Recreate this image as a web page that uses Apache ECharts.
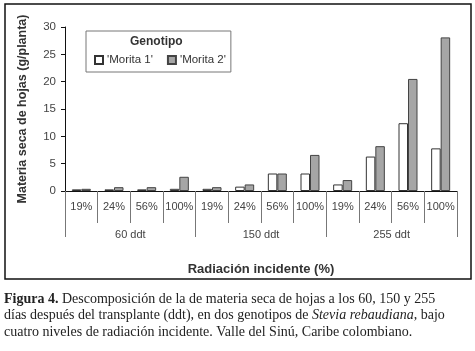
<!DOCTYPE html>
<html>
<head>
<meta charset="utf-8">
<script src="https://cdn.jsdelivr.net/npm/echarts@6/dist/echarts.min.js"></script>
<style>
  html, body { margin: 0; padding: 0; background: #fff; }
  #chart { width: 475px; height: 351px; }
</style>
</head>
<body>
<div id="chart"></div>
<script>
// datos
var radiacion = ['19%', '24%', '56%', '100%', '19%', '24%', '56%', '100%', '19%', '24%', '56%', '100%'];
var etapas = ['60 ddt', '150 ddt', '255 ddt'];
var morita1 = [0.3, 0.3, 0.3, 0.4, 0.4, 0.8, 3.2, 3.2, 1.2, 6.3, 12.4, 7.8];
var morita2 = [0.4, 0.7, 0.7, 2.6, 0.7, 1.2, 3.2, 6.6, 2.0, 8.2, 20.5, 28.1];
var yTicks = [0, 5, 10, 15, 20, 25, 30];

var fuente = 'Liberation Sans, Arial, sans-serif';
var serif = 'Liberation Serif, DejaVu Serif, serif';

var chart = echarts.init(document.getElementById('chart'));

var option = {
  animation: false,
  backgroundColor: '#fff',
  grid: { left: 65, right: 18, top: 27, bottom: 160, containLabel: false },
  legend: {
    left: 86, top: 31,
    padding: [23, 5, 6, 8],
    itemWidth: 8, itemHeight: 8, itemGap: 14,
    icon: 'rect',
    borderColor: '#777', borderWidth: 1,
    textStyle: { fontFamily: fuente, fontSize: 11.5, color: '#333', padding: [0, 0, 0, -1] },
    data: ["'Morita 1'", "'Morita 2'"]
  },
  xAxis: [
    {
      type: 'category',
      data: radiacion,
      axisLine: { lineStyle: { color: '#111', width: 1 } },
      axisTick: { show: true, interval: 0, length: 32, lineStyle: { color: '#777' } },
      axisLabel: { interval: 0, margin: 10, fontFamily: fuente, fontSize: 11, color: '#444' }
    },
    {
      type: 'category',
      data: etapas,
      position: 'bottom',
      axisLine: { show: false },
      axisTick: { show: true, interval: 0, length: 46, lineStyle: { color: '#777' } },
      axisLabel: { interval: 0, margin: 38, fontFamily: fuente, fontSize: 11, color: '#444' },
      name: 'Radiación incidente (%)',
      nameLocation: 'middle',
      nameGap: 72,
      nameTextStyle: { fontFamily: fuente, fontSize: 13, fontWeight: 'bold', color: '#333' }
    }
  ],
  yAxis: {
    type: 'value',
    min: yTicks[0], max: yTicks[yTicks.length - 1], interval: 5,
    axisLine: { show: true, lineStyle: { color: '#111' } },
    axisTick: { show: true, length: 4, lineStyle: { color: '#111' } },
    splitLine: { show: false },
    axisLabel: { margin: 9, fontFamily: fuente, fontSize: 11.5, color: '#444' },
    name: 'Materia seca de hojas (g/planta)',
    nameLocation: 'middle',
    nameGap: 36,
    nameTextStyle: { fontFamily: fuente, fontSize: 12.5, fontWeight: 'bold', color: '#333' }
  },
  series: [
    {
      name: "'Morita 1'", type: 'bar', xAxisIndex: 0,
      data: morita1, barWidth: 9.5, barGap: '0%',
      itemStyle: { color: '#fff', borderColor: '#333', borderWidth: 1 }
    },
    {
      name: "'Morita 2'", type: 'bar', xAxisIndex: 0,
      data: morita2, barWidth: 9.5, barGap: '0%',
      itemStyle: { color: '#a6a6a6', borderColor: '#444', borderWidth: 1 }
    }
  ],
  graphic: [
    {
      type: 'rect',
      shape: { x: 5, y: 4, width: 466, height: 275 },
      style: { fill: 'none', stroke: '#111', lineWidth: 1.5 },
      silent: true
    },
    {
      type: 'text', left: 130, top: 36,
      style: { text: 'Genotipo', font: 'bold 12px ' + fuente, fill: '#333' }
    },
    {
      type: 'text', left: 4, top: 291,
      style: {
        text: '{b|Figura 4.} Descomposición de la de materia seca de hojas a los 60, 150 y 255\n' +
              'días después del transplante (ddt), en dos genotipos de {i|Stevia rebaudiana}, bajo\n' +
              'cuatro niveles de radiación incidente. Valle del Sinú, Caribe colombiano.',
        font: '14px ' + serif, fill: '#222', lineHeight: 16.5,
        rich: {
          b: { fontFamily: serif, fontSize: 14, fontWeight: 'bold', fill: '#222' },
          i: { fontFamily: serif, fontSize: 14, fontStyle: 'italic', fill: '#222' }
        }
      }
    }
  ]
};

chart.setOption(option);
</script>
</body>
</html>
